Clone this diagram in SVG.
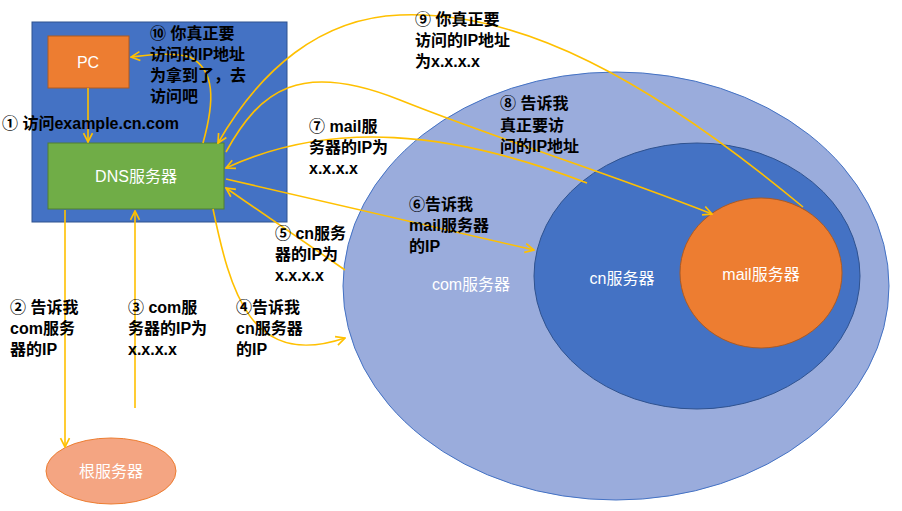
<svg xmlns="http://www.w3.org/2000/svg" width="902" height="511" viewBox="0 0 902 511">
<defs>
<marker id="a" viewBox="0 0 10 10" refX="9" refY="5" markerWidth="7" markerHeight="7" orient="auto-start-reverse"><path d="M1,1 L9,5 L1,9" fill="none" stroke="#FFC000" stroke-width="1.5"/></marker>
</defs>
<style>
.c{fill:none;stroke:#FFC000;stroke-width:1.6;marker-end:url(#a)}
.l{font-family:"Liberation Sans","Noto Sans CJK SC",sans-serif;font-size:16px;font-weight:bold;fill:#000}
.w{font-family:"Liberation Sans","Noto Sans CJK SC",sans-serif;font-size:16px;fill:#fff;text-anchor:middle}
</style>
<rect width="902" height="511" fill="#fff"/>
<g id="host"><rect x="32" y="22" width="255" height="200" fill="#4472C4" stroke="#2F528F"/></g>
<g id="pc"><rect x="48" y="36" width="81" height="52" fill="#ED7D31" stroke="#AE5A21"/><text class="w" x="88" y="68">PC</text></g>
<g id="dns"><rect x="48" y="143" width="176" height="66" fill="#70AD47" stroke="#507E32"/><text class="w" x="136" y="182">DNS服务器</text></g>
<g id="com"><ellipse cx="616" cy="286" rx="273" ry="214" fill="#9AACDC" stroke="#4472C4"/><text class="w" x="471" y="290">com服务器</text></g>
<g id="cn"><ellipse cx="697" cy="276" rx="163" ry="133" fill="#4472C4" stroke="#2F528F"/><text class="w" x="622" y="284">cn服务器</text></g>
<g id="mail"><ellipse cx="761" cy="273" rx="81" ry="75" fill="#ED7D31" stroke="#AE5A21"/><text class="w" x="761" y="280">mail服务器</text></g>
<g id="root"><ellipse cx="111" cy="471" rx="65" ry="33" fill="#F4A582" stroke="#ED7D31"/><text class="w" x="111" y="477">根服务器</text></g>
<g id="connectors">
<path class="c" d="M88,88 L88,142"/>
<path class="c" d="M65,210 L65,447"/>
<path class="c" d="M135,408 L135,211"/>
<path class="c" d="M213,209 C230,290 250,370 345,338"/>
<path class="c" d="M345,270 L226,188"/>
<path class="c" d="M226,179 L534,250"/>
<path class="c" d="M587,183 C450,130 330,120 226,168"/>
<path class="c" d="M226,152 C260,90 300,60 400,100 C500,140 600,170 712,214"/>
<path class="c" d="M803,207 C650,80 520,10 400,15 C320,18 260,70 218,143"/>
<path class="c" d="M203,143 C215,100 215,70 190,57 C170,52 150,55 131,57"/>
</g>
<g id="labels">
<text class="l" x="2" y="129">① 访问example.cn.com</text>
<text class="l"><tspan x="150" y="39">⑩ 你真正要</tspan><tspan x="150" y="60">访问的IP地址</tspan><tspan x="150" y="81">为拿到了，去</tspan><tspan x="150" y="102">访问吧</tspan></text>
<text class="l"><tspan x="415" y="25">⑨ 你真正要</tspan><tspan x="415" y="46">访问的IP地址</tspan><tspan x="415" y="67">为x.x.x.x</tspan></text>
<text class="l"><tspan x="500" y="109">⑧ 告诉我</tspan><tspan x="500" y="131">真正要访</tspan><tspan x="500" y="152">问的IP地址</tspan></text>
<text class="l"><tspan x="309" y="132">⑦ mail服</tspan><tspan x="309" y="153">务器的IP为</tspan><tspan x="309" y="174">x.x.x.x</tspan></text>
<text class="l"><tspan x="409" y="210">⑥告诉我</tspan><tspan x="409" y="231">mail服务器</tspan><tspan x="409" y="252">的IP</tspan></text>
<text class="l"><tspan x="275" y="239">⑤ cn服务</tspan><tspan x="275" y="260">器的IP为</tspan><tspan x="275" y="281">x.x.x.x</tspan></text>
<text class="l"><tspan x="236" y="313">④告诉我</tspan><tspan x="236" y="334">cn服务器</tspan><tspan x="236" y="355">的IP</tspan></text>
<text class="l"><tspan x="128" y="313">③ com服</tspan><tspan x="128" y="334">务器的IP为</tspan><tspan x="128" y="355">x.x.x.x</tspan></text>
<text class="l"><tspan x="10" y="313">② 告诉我</tspan><tspan x="10" y="334">com服务</tspan><tspan x="10" y="355">器的IP</tspan></text>
</g>
</svg>
